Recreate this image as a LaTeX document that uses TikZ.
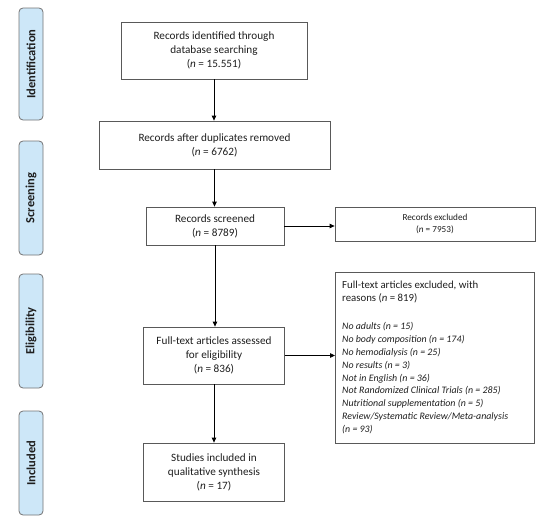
\documentclass[tikz,border=0pt]{standalone}
\usepackage{fontspec}
\setmainfont{Carlito}
\usetikzlibrary{arrows.meta}
\definecolor{phasefill}{RGB}{205,231,248}
\definecolor{ink}{RGB}{30,30,30}
\begin{document}
\begin{tikzpicture}[x=1pt,y=1pt,
  box/.style={draw=black!65,line width=0.8pt,align=center,font=\fontsize{11.2}{14}\selectfont,inner sep=2pt,text=ink},
  phase/.style={draw=black!55,line width=0.8pt,rounded corners=4pt,fill=phasefill,minimum width=24,font=\fontsize{12.5}{14}\selectfont\bfseries,text=ink},
  arr/.style={-{Triangle[length=5pt,width=4.5pt]},line width=0.8pt,black}]
\useasboundingbox (0,0) rectangle (550,-530);
% phase labels
\node[phase,minimum height=112] (pid) at (31,-64) {\rotatebox{90}{Identification}};
\node[phase,minimum height=114] (psc) at (31,-198) {\rotatebox{90}{Screening}};
\node[phase,minimum height=114] (pel) at (31,-331) {\rotatebox{90}{Eligibility}};
\node[phase,minimum height=104] (pin) at (31,-463) {\rotatebox{90}{Included}};
% main boxes
\node[box,minimum width=186,minimum height=57] (b1) at (214,-50.5) {Records identified through\\database searching\\(\textit{n} = 15.551)};
\node[box,minimum width=231,minimum height=48] (b2) at (214.5,-145) {Records after duplicates removed\\(\textit{n} = 6762)};
\node[box,minimum width=138,minimum height=38] (b3) at (215,-226) {Records screened\\(\textit{n} = 8789)};
\node[box,minimum width=200,minimum height=34,font=\fontsize{9.2}{12}\selectfont] (x1) at (435,-224) {Records excluded\\(\textit{n} = 7953)};
\node[box,minimum width=141,minimum height=57] (b4) at (214,-355.5) {Full-text articles assessed\\for eligibility\\(\textit{n} = 836)};
\node[box,minimum width=141,minimum height=58] (b5) at (214,-472) {Studies included in\\qualitative synthesis\\(\textit{n} = 17)};
\node[box,minimum width=199,minimum height=171,anchor=north west] (x2) at (335,-272) {};
\node[anchor=north west,align=left,inner sep=0pt,font=\fontsize{10.8}{12.5}\selectfont,text=ink] (x2h) at (342,-281) {Full-text articles excluded, with\\reasons (\textit{n} = 819)};
\node[anchor=north west,align=left,inner sep=0pt,font=\fontsize{9.9}{12.8}\selectfont\itshape,text=ink] (x2l) at (342,-322.5) {No adults (n = 15)\\No body composition (n = 174)\\No hemodialysis (n = 25)\\No results (n = 3)\\Not in English (n = 36)\\Not Randomized Clinical Trials (n = 285)\\Nutritional supplementation (n = 5)\\Review/Systematic Review/Meta-analysis\\(n = 93)};
% arrows
\draw[arr] (b1.south) -- (b1.south |- b2.north);
\draw[arr] (b2.south) -- (b2.south |- b3.north);
\draw[arr] (b3.south) -- (b3.south |- b4.north);
\draw[arr] (b4.south) -- (b4.south |- b5.north);
\draw[arr] (b3.east) -- (b3.east -| x1.west);
\draw[arr] (b4.east) -- (b4.east -| x2.west);
\end{tikzpicture}
\end{document}
